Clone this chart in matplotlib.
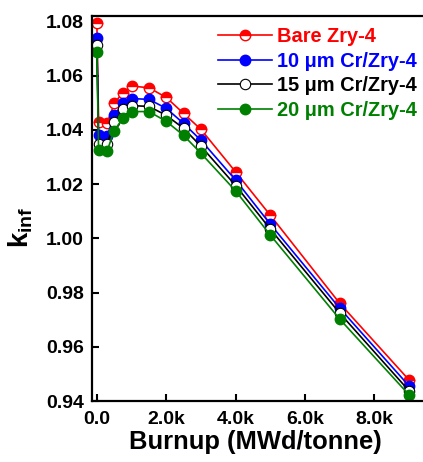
import matplotlib
matplotlib.use("Agg")
import matplotlib.pyplot as plt

plt.rcParams['font.family'] = ['Liberation Sans', 'DejaVu Sans']
plt.rcParams['font.weight'] = 'bold'
plt.rcParams['mathtext.fontset'] = 'custom'
plt.rcParams['mathtext.rm'] = 'Liberation Sans:bold'
plt.rcParams['mathtext.it'] = 'Liberation Sans:bold'
plt.rcParams['mathtext.bf'] = 'Liberation Sans:bold'

burnup = [0, 50, 300, 500, 750, 1000, 1500, 2000, 2500, 3000, 4000, 5000, 7000, 9000]

bare = [1.0796, 1.0428, 1.0426, 1.0498, 1.0538, 1.0562, 1.0556, 1.0520, 1.0461, 1.0402,
        1.0245, 1.0085, 0.9760, 0.9477]
cr10 = [1.0741, 1.0380, 1.0379, 1.0454, 1.0498, 1.0516, 1.0513, 1.0480, 1.0424, 1.0362,
        1.0215, 1.0052, 0.9742, 0.9455]
cr15 = [1.0712, 1.0350, 1.0349, 1.0428, 1.0476, 1.0490, 1.0487, 1.0454, 1.0406, 1.0340,
        1.0195, 1.0034, 0.9724, 0.9437]
cr20 = [1.0686, 1.0325, 1.0324, 1.0398, 1.0443, 1.0468, 1.0468, 1.0432, 1.0380, 1.0314,
        1.0175, 1.0012, 0.9702, 0.9422]

labels = ['Bare Zry-4', '10 μm Cr/Zry-4', '15 μm Cr/Zry-4', '20 μm Cr/Zry-4']
colors = ['red', 'blue', 'black', 'green']

fig = plt.figure(figsize=(4.23, 4.62), dpi=100)
# right edge of the axes runs past the figure, as in the cropped original
ax = fig.add_axes([0.2175, 0.132, 0.795, 0.833])

ms = 7.5
ax.plot(burnup, bare, '-o', color='red', lw=1.2, ms=ms, fillstyle='top',
        markerfacecolor='red', markerfacecoloralt='white', markeredgecolor='red',
        markeredgewidth=1.0, label=labels[0])
ax.plot(burnup, cr10, '-o', color='blue', lw=1.2, ms=ms, markerfacecolor='blue',
        markeredgecolor='blue', label=labels[1])
ax.plot(burnup, cr15, '-o', color='black', lw=1.2, ms=ms, markerfacecolor='white',
        markeredgecolor='black', markeredgewidth=0.8, label=labels[2])
ax.plot(burnup, cr20, '-o', color='green', lw=1.2, ms=ms, markerfacecolor='green',
        markeredgecolor='green', label=labels[3])

ax.set_xlim(-140, 9550)
ax.set_ylim(0.94, 1.082)
ax.set_xticks([0, 2000, 4000, 6000, 8000])
ax.set_xticklabels(['0.0', '2.0k', '4.0k', '6.0k', '8.0k'])
ax.set_yticks([0.94, 0.96, 0.98, 1.00, 1.02, 1.04, 1.06, 1.08])
ax.set_yticklabels(['0.94', '0.96', '0.98', '1.00', '1.02', '1.04', '1.06', '1.08'])
ax.tick_params(direction='in', length=5, width=1.5, labelsize=14)
ax.tick_params(axis='y', pad=6)
ax.tick_params(axis='x', pad=7)
for s in ax.spines.values():
    s.set_linewidth(1.6)

ax.set_xlabel('Burnup (MWd/tonne)', fontsize=18.4, fontweight='bold', labelpad=3)
ax.xaxis.set_label_coords(0.485, -0.075)
ax.set_ylabel(r'$k_{inf}$', fontsize=20)
ax.yaxis.set_label_coords(-0.17, 0.45)

leg = ax.legend(loc='upper left', frameon=False, fontsize=14.4, numpoints=1,
                handlelength=2.7, handletextpad=0.25, labelspacing=0.28,
                borderpad=0, borderaxespad=0, bbox_to_anchor=(0.375, 0.972))
for txt, c in zip(leg.get_texts(), colors):
    txt.set_color(c)
    txt.set_fontweight('bold')

fig.savefig('out.png', dpi=100)
